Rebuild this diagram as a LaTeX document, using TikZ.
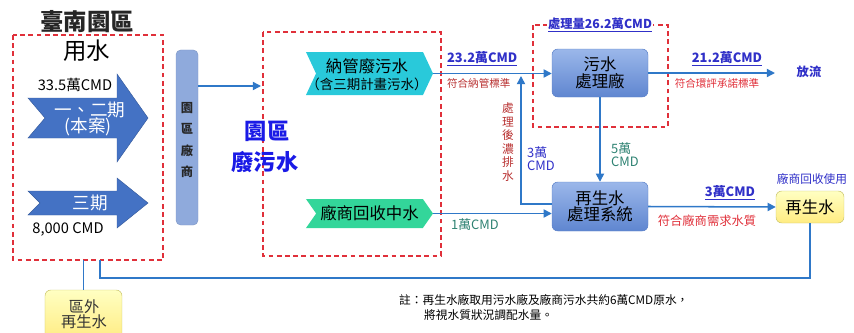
\documentclass[tikz,border=0pt]{standalone}
\usepackage{fontspec}
\setmainfont{Noto Sans CJK TC}
\usetikzlibrary{arrows.meta,shapes.symbols}

\definecolor{dashred}{HTML}{E0303A}
\definecolor{flowblue}{HTML}{2F78C8}
\definecolor{labelblue}{HTML}{3030C8}
\definecolor{wasteblue}{HTML}{1A1AE6}
\definecolor{notered}{HTML}{B83030}
\definecolor{flowteal}{HTML}{2E8272}
\definecolor{arrowfill}{HTML}{4472C4}
\definecolor{barfill}{HTML}{8FAADC}
\definecolor{plantlight}{HTML}{9BB7EA}
\definecolor{plantdark}{HTML}{5F86D0}
\definecolor{plantedge}{HTML}{5A80C8}
\definecolor{sewercyan}{HTML}{29C9DA}
\definecolor{greygreen}{HTML}{33D69A}
\definecolor{reuseyellow}{HTML}{FFFF99}
\definecolor{reuseedge}{HTML}{C9C46A}

\newcommand{\fs}[1]{\fontsize{#1}{#1}\selectfont}

\begin{document}
\begin{tikzpicture}[x=0.03cm,y=-0.03cm,
   redbox/.style={draw=dashred,line width=1.2pt,dash pattern=on 4pt off 3pt},
   flow/.style={draw=flowblue,line width=1.3pt,-{Triangle[length=7pt,width=7pt]}},
   pipe/.style={draw=flowblue,line width=1.3pt},
   bigarrow/.style={fill=arrowfill,draw=arrowfill!80!black,line width=0.4pt},
   plantbox/.style={rounded corners=5pt,draw=plantedge,top color=plantlight,bottom color=plantdark,
      align=center,font=\fs{14},minimum width=2.88cm,inner sep=0pt},
   chevron/.style={shape=signal,signal to=east,signal from=west,draw=none,font=\fs{14},
      minimum width=3.81cm,inner sep=0pt,align=center},
   reusebox/.style={rounded corners=5pt,draw=reuseedge,top color=reuseyellow!60!white,
      bottom color=reuseyellow!85!orange,align=center,inner sep=0pt},
   qty/.style={text=labelblue,font=\bfseries\fs{11}},
   spec/.style={text=notered,font=\fs{9}}
   ]

   \useasboundingbox (0,0) rectangle (854,333);

   % park water use
   \node (Title) at (87,22) [font=\bfseries\fs{20},text=black!85] {臺南園區};
   \draw [redbox] (13,35) coordinate (UseNW) rectangle (163,260) coordinate (UseSE);
   \node (UseWater) at (87,51) [font=\fs{20}] {用水};

   \fill [bigarrow] (28,98) -- (117,98) -- (117,74) -- (148,118) -- (117,162) -- (117,138)
      -- (28,138) -- (45,118) -- cycle;
   \fill [bigarrow] (28,191) -- (117,191) -- (117,178) -- (148,203) -- (117,228) -- (117,215)
      -- (28,215) -- (40,203) -- cycle;

   \node (PhaseOneQty) at (75,85) [font=\fs{12.5}] {33.5萬CMD};
   \node (PhaseOne) at (90,110) [text=white,font=\fs{15}] {一、二期};
   \node (ThisCase) at (88,127) [text=white,font=\fs{15}] {(本案)};
   \node (PhaseThree) at (90,203) [text=white,font=\fs{15}] {三期};
   \node (PhaseThreeQty) at (68,229) [font=\fs{12.5}] {8,000 CMD};

   \node (Bar) at (187,137.5) [rounded corners=4pt,fill=barfill,draw=barfill!90!black,
      minimum width=0.66cm,minimum height=5.25cm,inner sep=0pt] {};
   \node (BarText) at (187,140) [align=center,font=\bfseries\fontsize{10.5}{18}\selectfont,
      text=black!85] {園\\區\\廠\\商};

   % park wastewater
   \draw [redbox] (263,32) coordinate (WasteNW) rectangle (441,256) coordinate (WasteSE);
   \coordinate (WasteIn) at (261,86);
   \node (WasteA) at (267,131) [text=wasteblue,font=\bfseries\fs{19}] {園區};
   \node (WasteB) at (265,162) [text=wasteblue,font=\bfseries\fs{19}] {廢污水};

   \node (SewerIn) at (369.5,73.5) [chevron,signal pointer angle=130,fill=sewercyan,
      minimum height=1.29cm] {};
   \node (SewerA) at (367,66) [font=\fs{14}] {納管廢污水};
   \node (SewerB) at (367,84) [font=\fs{11.5}] {（含三期計畫污水）};
   \node (GreyIn) at (369.5,213.5) [chevron,signal pointer angle=110,fill=greygreen,
      minimum height=0.87cm] {廠商回收中水};

   % sewage plant
   \draw [redbox] (533,25) coordinate (PlantNW) rectangle (668,127) coordinate (PlantSE);
   \node (PlantQty) at (600,25) [fill=white,inner sep=1pt,text=labelblue,
      font=\bfseries\fs{10.5}] {\underline{處理量26.2萬CMD}};
   \node (Plant) at (600,73) [plantbox,minimum height=1.44cm] {污水\\處理廠};
   \node (Recycle) at (600,206.5) [plantbox,minimum height=1.47cm] {再生水\\處理系統};

   \node (Discharge) at (809,72) [text=labelblue,font=\bfseries\fs{10.5}] {放流};
   \node (Reuse) at (810,207) [reusebox,minimum width=2.04cm,minimum height=0.96cm,
      font=\fs{14}] {再生水};
   \node (ReuseUse) at (812,179) [text=labelblue,font=\fs{10}] {廠商回收使用};
   \node (Outside) at (83.5,315) [reusebox,minimum width=2.31cm,minimum height=1.5cm] {};
   \node (OutsideText) at (84,314) [align=center,font=\fs{13},text=black!80] {區外\\再生水};

   % labels on the flows
   \node (SewerQty) at (443,59) [anchor=west,qty] {\underline{23.2萬CMD}};
   \node (SewerSpec) at (443,83) [anchor=west,spec] {符合納管標準};
   \node (OutQty) at (727,59) [qty] {\underline{21.2萬CMD}};
   \node (OutSpec) at (717,83) [spec,text=dashred] {符合環評承諾標準};
   \node (FiveQty) at (607,155) [anchor=west,align=left,text=flowteal,font=\fs{11}] {5萬\\CMD};
   \node (ConcQty) at (523,159) [anchor=west,align=left,text=labelblue,font=\fs{11}] {3萬\\CMD};
   \node (ConcText) at (508,142) [align=center,text=notered,font=\fontsize{10}{11.6}\selectfont]
      {處\\理\\後\\濃\\排\\水};
   \node (GreyQty) at (475,225) [text=flowteal,font=\fs{11}] {1萬CMD};
   \node (ReuseQty) at (730,193) [qty] {\underline{3萬CMD}};
   \node (ReuseSpec) at (707,221) [spec,text=dashred,font=\fs{10.5}] {符合廠商需求水質};

   \node (Note) at (395,300) [anchor=west,font=\fs{10}] {註：再生水廠取用污水廠及廠商污水共約6萬CMD原水，};
   \node (NoteB) at (420,315) [anchor=west,font=\fs{10}] {將視水質狀況調配水量。};

   % connectors
   \coordinate (ConcTop) at (521,76);
   \coordinate (ReturnLow) at (100,278);
   \coordinate (UseReturn) at (100,260);

   \draw [flow] (Bar.east |- WasteIn) -- (WasteIn);
   \draw [flow] (SewerIn.east) -- (Plant.west |- SewerIn.east);
   \draw [flow,shorten >=15pt] (Plant.east) -- (Discharge.west |- Plant.east);
   \draw [flow] (Plant.south) -- (Recycle.north);
   \draw [flow] (GreyIn.east) -- (Recycle.west |- GreyIn.east);
   \draw [flow] ([yshift=2pt]Recycle.west) -| (ConcTop);
   \draw [flow] (Recycle.east) -- (Reuse.west);
   \draw [pipe] (Reuse.south) |- (ReturnLow) -- (UseReturn);
   \draw [pipe] (Outside.north) -- (Outside.north |- UseSE);

\end{tikzpicture}
\end{document}
